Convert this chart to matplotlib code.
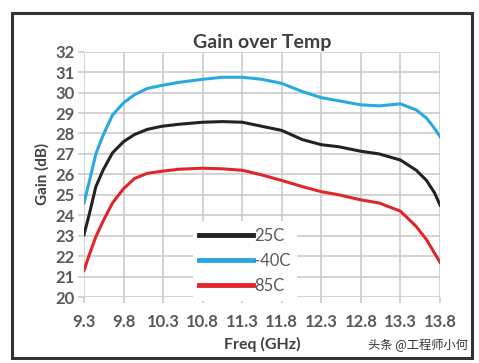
import matplotlib
matplotlib.use("Agg")
import matplotlib.pyplot as plt
from matplotlib.patches import Rectangle

freq = [9.3, 9.37, 9.45, 9.54, 9.66, 9.8, 9.94, 10.1, 10.28, 10.5, 10.8, 11.05,
        11.3, 11.55, 11.8, 12.06, 12.3, 12.52, 12.8, 13.03, 13.3, 13.5, 13.63, 13.73, 13.8]
gain_25c = [23.05, 24.1, 25.4, 26.2, 27.05, 27.6, 27.95, 28.2, 28.35, 28.45, 28.55, 28.58,
            28.55, 28.35, 28.15, 27.7, 27.45, 27.35, 27.13, 27.0, 26.7, 26.2, 25.7, 25.1, 24.5]
gain_m40c = [24.6, 25.7, 27.0, 27.9, 28.9, 29.5, 29.9, 30.2, 30.35, 30.5, 30.65, 30.75,
             30.75, 30.65, 30.45, 30.05, 29.75, 29.6, 29.4, 29.35, 29.45, 29.15, 28.75, 28.25, 27.85]
gain_85c = [21.3, 22.1, 22.95, 23.7, 24.6, 25.3, 25.8, 26.05, 26.15, 26.25, 26.3, 26.27,
            26.2, 25.97, 25.7, 25.4, 25.15, 25.0, 24.75, 24.6, 24.2, 23.45, 22.8, 22.15, 21.7]
xticks = [9.3, 9.8, 10.3, 10.8, 11.3, 11.8, 12.3, 12.8, 13.3, 13.8]
yticks = list(range(20, 33))

plt.rcParams['font.family'] = ['Lato', 'DejaVu Sans']

fig = plt.figure(figsize=(4.79, 3.63), dpi=100)
ax = fig.add_axes([84/479, 1-297/363, 356/479, (297-51.7)/363])

ax.plot(freq, gain_25c, color='#222222', lw=2.2, label='25C', solid_joinstyle='round')
ax.plot(freq, gain_m40c, color='#2aa8e0', lw=2.2, label='-40C', solid_joinstyle='round')
ax.plot(freq, gain_85c, color='#e0252b', lw=2.2, label='85C', solid_joinstyle='round')

ax.set_xlim(9.3, 13.8)
ax.set_ylim(20, 32)
ax.set_xticks(xticks)
ax.set_xticklabels([f"{v:.1f}" for v in xticks])
ax.set_yticks(yticks)
ax.grid(True, color='#cccccc', lw=1.2)
ax.set_axisbelow(True)
for s in ax.spines.values():
    s.set_visible(False)
ax.tick_params(axis='both', length=4, width=1.2, color='#cccccc',
               labelsize=12, labelcolor='#595959', pad=3)
ax.tick_params(axis='x', pad=8)
for lab in ax.get_xticklabels() + ax.get_yticklabels():
    lab.set_fontweight('bold')

ax.set_xlabel('Freq (GHz)', fontsize=11.5, fontweight='bold', color='#404040', labelpad=5)
ax.set_ylabel('Gain (dB)', fontsize=11, fontweight='bold', color='#404040', labelpad=4)
ax.set_title('Gain over Temp', fontsize=14, fontweight='bold', color='#404040', pad=3)

leg = ax.legend(loc='center', bbox_to_anchor=(0.452, 0.148), fontsize=12,
                frameon=True, framealpha=1, edgecolor='none', facecolor='white',
                handlelength=3.2, handletextpad=0.1, borderpad=0.4, labelspacing=0.55,
                fancybox=False)
for line in leg.get_lines():
    line.set_linewidth(3.5)
for t in leg.get_texts():
    t.set_color('#595959')

fig.patches.append(Rectangle((12/479, 1-358/363), 460/479, 345/363, transform=fig.transFigure,
                             fill=False, edgecolor='#333333', lw=2.2))

fig.text(0.977, 1-345/363, '头条 @工程师小何', ha='right', va='center', fontsize=8.8,
         color='#333333', family=['Noto Sans CJK SC', 'DejaVu Sans'])

fig.savefig('out.png', dpi=100)
